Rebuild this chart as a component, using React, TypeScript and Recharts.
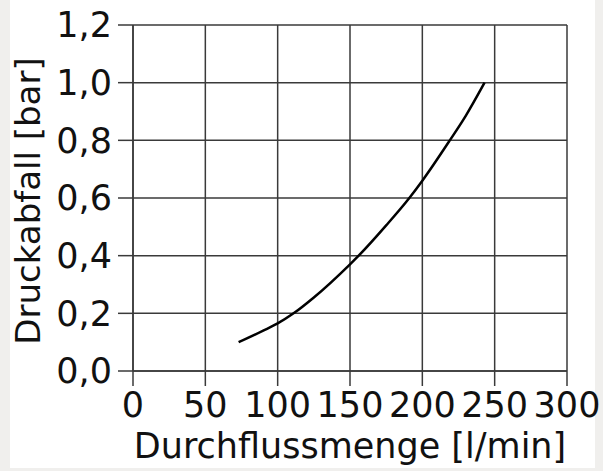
import React from 'react';
import { LineChart, Line, XAxis, YAxis, CartesianGrid, Label } from 'recharts';

// Durchflussmenge [l/min] und Druckabfall [bar]
const flow = [73, 90, 100, 111, 125, 150, 156, 175, 191, 200, 219, 230, 243];
const pressure = [0.1, 0.14, 0.165, 0.2, 0.255, 0.37, 0.4, 0.505, 0.6, 0.66, 0.8, 0.885, 1.0];

const xTicks = [0, 50, 100, 150, 200, 250, 300];
const yTicks = [0, 0.2, 0.4, 0.6, 0.8, 1.0, 1.2];

const data = flow.map((q, i) => ({ q, p: pressure[i] }));

const FONT = '"DejaVu Sans", Verdana, sans-serif';
const tickStyle = { fontSize: 35, fill: '#111', fontFamily: FONT };
const lineColor = '#3a3a3a';

const App: React.FC = () => {
  return (
    <div
      style={{
        position: 'absolute',
        left: 0,
        top: 0,
        width: 603,
        height: 471,
        background: '#f0efed',
      }}
    >
      {/* weisse Flaeche */}
      <div style={{ position: 'absolute', left: 10, top: 0, width: 585, height: 468, background: '#fff' }} />
      <div style={{ position: 'absolute', left: 0, top: 0 }}>
        <LineChart width={603} height={471} data={data} margin={{ top: 25, right: 36, bottom: 0, left: 0 }}>
          <CartesianGrid stroke={lineColor} strokeWidth={1.5} />
          <XAxis
            dataKey="q"
            type="number"
            domain={[0, 300]}
            ticks={xTicks}
            interval={0}
            height={100}
            tickSize={15}
            tickMargin={6}
            tick={tickStyle}
            stroke={lineColor}
            strokeWidth={1.5}
          >
            <Label
              value="Durchflussmenge [l/min]"
              position="insideBottom"
              offset={13}
              style={{ fontSize: 35, fill: '#111', fontFamily: FONT }}
            />
          </XAxis>
          <YAxis
            type="number"
            domain={[0, 1.2]}
            ticks={yTicks}
            interval={0}
            width={133}
            tickSize={15}
            tickMargin={6}
            tick={tickStyle}
            stroke={lineColor}
            strokeWidth={1.5}
            tickFormatter={(v: number) => v.toFixed(1).replace('.', ',')}
          >
            <Label
              content={() => (
                <text
                  x={40}
                  y={201}
                  transform="rotate(-90 40 201)"
                  textAnchor="middle"
                  style={{ fontSize: 34, fill: '#111', fontFamily: FONT }}
                >
                  Druckabfall [bar]
                </text>
              )}
            />
          </YAxis>
          <Line
            type="monotone"
            dataKey="p"
            stroke="#000"
            strokeWidth={2.5}
            dot={false}
            isAnimationActive={false}
          />
        </LineChart>
      </div>
    </div>
  );
};

export default App;
